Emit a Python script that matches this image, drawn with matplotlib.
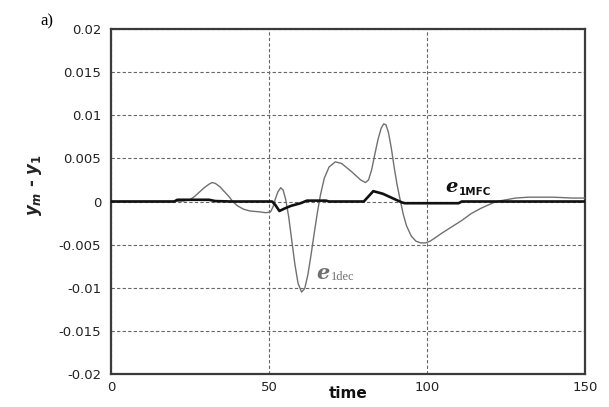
import matplotlib
matplotlib.use("Agg")
import matplotlib.pyplot as plt

# ---- data ----
t_dec = [0, 20, 23, 25, 26.5, 28, 29.5, 31, 32, 33, 34.5, 36, 37.5, 38.5, 40, 42, 44,
         47, 49, 50.5, 51.3, 52, 52.8, 53.7, 54.5, 55.3, 56.2, 57.2, 58.2, 59.2,
         60.3, 61.3, 62.3, 63.3, 64.3, 65.3, 66.3, 67.5, 69, 71, 73, 76, 79, 80.5,
         81.5, 82.5, 83.5, 84.5, 85.5, 86.3, 87, 87.8, 88.7, 89.6, 90.5, 91.5, 92.5,
         93.5, 95, 96.5, 98, 99.5, 101, 103, 105, 108, 111, 114, 117, 120, 122, 125,
         128, 132, 140, 146, 150]
e_dec = [0, 0, 0.00005, 0.0002, 0.0006, 0.0011, 0.0016, 0.0020, 0.0022, 0.0021,
         0.0017, 0.0011, 0.0005, 0.0, -0.0005, -0.0009, -0.0011, -0.0012, -0.0013,
         -0.0012, -0.0006, 0.0003, 0.0011, 0.0016, 0.0013, 0.0002, -0.0017, -0.0045,
         -0.0073, -0.0095, -0.0105, -0.0101, -0.0085, -0.0062, -0.0037, -0.0013,
         0.0008, 0.0027, 0.0040, 0.0046, 0.0044, 0.0035, 0.0025, 0.0022, 0.0025,
         0.0037, 0.0055, 0.0072, 0.0085, 0.0090, 0.0089, 0.0080, 0.0062, 0.0040,
         0.0020, 0.0002, -0.0015, -0.0028, -0.0040, -0.0046, -0.0048, -0.0048,
         -0.0046, -0.0041, -0.0036, -0.0029, -0.0022, -0.0014, -0.0008, -0.0003,
         0.0, 0.0002, 0.0004, 0.0005, 0.0005, 0.0004, 0.0004]

t_mfc = [0, 20, 21, 31, 33, 38, 51, 52, 53.3, 55, 57, 60, 62, 68, 69, 80, 81, 83,
         86, 89, 92, 93, 110, 111, 150]
e_mfc = [0, 0, 0.0002, 0.0002, 0.00005, 0, 0, -0.0004, -0.0011, -0.0008, -0.0005,
         -0.0002, 0.0001, 0.0001, 0, 0, 0.0004, 0.0012, 0.0009, 0.0004, -0.0001,
         -0.0002, -0.0002, 0, 0]

x_ticks = [0, 50, 100, 150]
y_ticks = [-0.02, -0.015, -0.01, -0.005, 0, 0.005, 0.01, 0.015, 0.02]
y_tick_labels = ["-0.02", "-0.015", "-0.01", "-0.005", "0", "0.005", "0.01", "0.015", "0.02"]

plt.rcParams['mathtext.fontset'] = 'custom'
plt.rcParams['mathtext.it'] = 'DejaVu Sans:italic:bold'
plt.rcParams['mathtext.rm'] = 'DejaVu Sans:bold'

fig = plt.figure(figsize=(6.09, 4.07), dpi=100)
ax = fig.add_axes([111/609, 1-374/407, (585-111)/609, (374-29)/407])

ax.plot(t_dec, e_dec, color='#707070', lw=1.0, zorder=3)
ax.plot(t_mfc, e_mfc, color='#111111', lw=1.9, zorder=4)

ax.set_xlim(0, 150)
ax.set_ylim(-0.02, 0.02)
ax.set_xticks(x_ticks)
ax.set_xticklabels([str(v) for v in x_ticks])
ax.set_yticks(y_ticks)
ax.set_yticklabels(y_tick_labels)
ax.tick_params(length=0, labelsize=9.5, colors='#222222')
ax.tick_params(axis='y', pad=7)
ax.tick_params(axis='x', pad=5)
ax.grid(True, ls=(0, (3, 2)), color='#666666', lw=0.8)
ax.set_axisbelow(True)
for s in ax.spines.values():
    s.set_color('#3a3a3a')
    s.set_linewidth(1.6)

fig.text(348/609, 1-394/407, 'time', fontsize=11, fontweight='bold',
         ha='center', va='center', color='#111111')
fig.text(35/609, 1-185/407, r'$y_m$ - $y_1$', rotation=90, fontsize=12,
         fontweight='bold', ha='center', va='center', color='#222222')

# curve labels
ax.text(69.3, -0.00895, 'e', family='DejaVu Serif', style='italic', weight='bold',
        fontsize=15, color='#707070', ha='right', va='baseline')
ax.text(69.5, -0.0091, '1dec', family='Liberation Serif', fontsize=9,
        color='#707070', ha='left', va='baseline')
ax.text(109.8, 0.00105, 'e', family='DejaVu Serif', style='italic', weight='bold',
        fontsize=14, color='#111111', ha='right', va='baseline')
ax.text(110.2, 0.00075, '1MFC', family='DejaVu Sans', weight='bold', fontsize=7.5,
        color='#111111', ha='left', va='baseline')

fig.text(40/609, 1-21/407, 'a)', family='Liberation Serif', fontsize=12,
         ha='left', va='center')

fig.savefig('out.png', dpi=100)
